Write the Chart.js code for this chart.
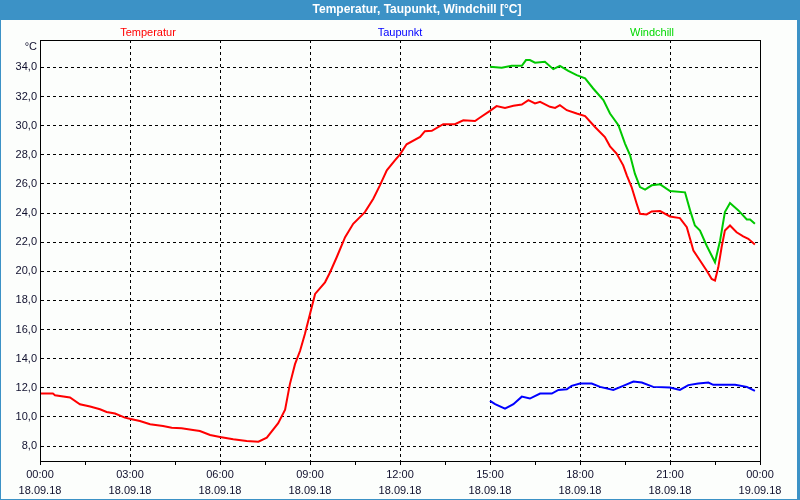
<!DOCTYPE html>
<html>
<head>
<meta charset="utf-8">
<script src="https://cdn.jsdelivr.net/npm/chart.js@4/dist/chart.umd.min.js"></script>
<style>
  body { margin: 0; background: #fff; }
  canvas { display: block; }
</style>
</head>
<body>
<canvas id="myChart" width="800" height="500"></canvas>
<script>
// Werte (Stunden ab 18.09.18 00:00)
var tempHours = [0, 0.43, 0.5, 1.0, 1.33, 1.67, 2.0, 2.22, 2.5, 2.83, 3.06, 3.33, 3.67, 4.1, 4.39, 4.72, 5.1, 5.33, 5.67, 6.0, 6.44, 6.89, 7.28, 7.56, 7.94, 8.17, 8.33, 8.5, 8.67, 8.83, 9.0, 9.17, 9.5, 9.67, 9.89, 10.17, 10.44, 10.83, 11.11, 11.33, 11.56, 11.83, 12.0, 12.22, 12.67, 12.83, 13.06, 13.44, 13.83, 14.11, 14.5, 14.67, 15.0, 15.22, 15.5, 15.78, 16.06, 16.28, 16.5, 16.67, 17.0, 17.17, 17.33, 17.56, 17.89, 18.17, 18.5, 18.83, 19.0, 19.22, 19.44, 19.56, 19.72, 19.89, 20.0, 20.22, 20.39, 20.67, 21.0, 21.33, 21.56, 21.78, 22.0, 22.22, 22.39, 22.5, 22.61, 22.72, 22.83, 23.0, 23.22, 23.44, 23.61, 23.83];
var tempValues = [11.6, 11.6, 11.49, 11.33, 10.87, 10.71, 10.52, 10.34, 10.23, 9.95, 9.84, 9.72, 9.49, 9.38, 9.26, 9.22, 9.10, 9.03, 8.76, 8.62, 8.46, 8.34, 8.30, 8.57, 9.57, 10.5, 12.25, 13.62, 14.54, 15.69, 17.07, 18.44, 19.24, 19.93, 20.96, 22.34, 23.26, 24.06, 24.98, 25.9, 26.93, 27.62, 28.03, 28.72, 29.22, 29.62, 29.64, 30.1, 30.1, 30.37, 30.32, 30.56, 31.01, 31.34, 31.22, 31.36, 31.45, 31.75, 31.52, 31.63, 31.29, 31.22, 31.40, 31.06, 30.83, 30.65, 29.91, 29.22, 28.58, 28.08, 27.27, 26.59, 25.78, 24.64, 23.95, 23.90, 24.11, 24.13, 23.76, 23.65, 23.03, 21.42, 20.74, 20.05, 19.47, 19.36, 20.27, 21.65, 22.8, 23.14, 22.68, 22.39, 22.23, 21.84];

var dewHours = [15.0, 15.17, 15.5, 15.78, 16.06, 16.33, 16.67, 17.06, 17.28, 17.56, 17.72, 18.0, 18.39, 18.67, 19.11, 19.44, 19.78, 20.06, 20.44, 21.0, 21.33, 21.61, 21.94, 22.28, 22.44, 23.17, 23.56, 23.83];
var dewValues = [11.10, 10.87, 10.57, 10.87, 11.39, 11.26, 11.6, 11.6, 11.85, 11.9, 12.13, 12.29, 12.29, 12.06, 11.85, 12.13, 12.43, 12.36, 12.06, 12.01, 11.85, 12.18, 12.29, 12.36, 12.20, 12.20, 12.06, 11.79];

var chillHours = [15.0, 15.39, 15.72, 16.06, 16.2, 16.33, 16.5, 16.83, 17.11, 17.33, 17.61, 17.89, 18.17, 18.44, 18.78, 19.0, 19.28, 19.5, 19.67, 19.83, 20.0, 20.17, 20.39, 20.67, 21.0, 21.5, 21.67, 21.83, 22.0, 22.22, 22.5, 22.67, 22.83, 23.0, 23.28, 23.56, 23.67, 23.83];
var chillValues = [34.04, 33.97, 34.11, 34.11, 34.5, 34.5, 34.32, 34.39, 33.88, 34.11, 33.76, 33.47, 33.24, 32.55, 31.75, 30.83, 30.03, 28.77, 27.96, 26.70, 25.78, 25.60, 25.90, 25.97, 25.51, 25.42, 24.18, 23.14, 22.8, 21.77, 20.62, 22.11, 24.06, 24.68, 24.18, 23.56, 23.56, 23.26];

var xTicks = [0, 1.5, 3, 4.5, 6, 7.5, 9, 10.5, 12, 13.5, 15, 16.5, 18, 19.5, 21, 22.5, 24];
var yTicks = [8, 10, 12, 14, 16, 18, 20, 22, 24, 26, 28, 30, 32, 34];
var seriesNames = ["Temperatur", "Taupunkt", "Windchill"];
var seriesColors = ["#ff0000", "#0000ff", "#00c800"];
var legendColors = ["#ff0000", "#0000ff", "#00d800"];

var blue = "#3c92c6";
var textCol = "#10102e";

function pts(h, v) {
    var out = [];
    for (var i = 0; i < h.length; i++) out.push({x: h[i], y: v[i]});
    return out;
}

// Rahmen, Titel, Legende, Einheit
var framePlugin = {
    id: 'frame',
    beforeDraw: function (chart) {
        var c = chart.ctx;
        c.save();
        c.fillStyle = "#fcfefc";
        c.fillRect(0, 0, chart.width, chart.height);
        c.fillStyle = blue;
        c.fillRect(0, 0, chart.width, 20);
        c.fillRect(0, 0, 1, chart.height);
        c.fillRect(chart.width - 3, 0, 3, chart.height);
        c.fillRect(0, chart.height - 1, chart.width, 1);
        c.fillStyle = "#ffffff";
        c.font = "bold 12px 'Liberation Sans'";
        c.textAlign = "center";
        c.textBaseline = "middle";
        c.fillText("Temperatur, Taupunkt, Windchill [°C]", 417, 10);
        c.restore();
    },
    afterDraw: function (chart) {
        var a = chart.chartArea;
        var c = chart.ctx;
        c.save();
        c.strokeStyle = "#000";
        c.lineWidth = 1;
        c.strokeRect(Math.round(a.left) + 0.5, Math.round(a.top) + 0.5, Math.round(a.right - a.left), Math.round(a.bottom - a.top));
        c.font = "11px 'Liberation Sans'";
        c.textBaseline = "middle";
        c.textAlign = "center";
        var pos = [0.15, 0.5, 0.85];
        for (var i = 0; i < seriesNames.length; i++) {
            c.fillStyle = legendColors[i];
            c.fillText(seriesNames[i], a.left + (a.right - a.left) * pos[i], 32.5);
        }
        c.fillStyle = textCol;
        c.textAlign = "right";
        c.fillText("°C", 37, 46.5);
        c.restore();
    }
};

var ctx = document.getElementById("myChart");
var myChart = new Chart(ctx, {
    type: 'line',
    data: {
        datasets: [
            { label: seriesNames[0], data: pts(tempHours, tempValues), borderColor: seriesColors[0] },
            { label: seriesNames[1], data: pts(dewHours, dewValues), borderColor: seriesColors[1] },
            { label: seriesNames[2], data: pts(chillHours, chillValues), borderColor: seriesColors[2] }
        ]
    },
    options: {
        responsive: false,
        animation: false,
        devicePixelRatio: 1,
        layout: { padding: { top: 40, right: 40, left: 0, bottom: 0 } },
        elements: {
            line: { borderWidth: 2, tension: 0, fill: false },
            point: { radius: 0 }
        },
        plugins: {
            legend: { display: false },
            title: { display: false },
            tooltip: { enabled: false }
        },
        scales: {
            x: {
                type: 'linear',
                min: 0,
                max: 24,
                afterBuildTicks: function (axis) {
                    axis.ticks = xTicks.map(function (v) { return {value: v}; });
                },
                afterFit: function (axis) { axis.height = 39; },
                ticks: {
                    autoSkip: false,
                    maxRotation: 0,
                    padding: 2,
                    color: textCol,
                    font: { family: "'Liberation Sans'", size: 11, lineHeight: 1.45 },
                    callback: function (v) {
                        if (v % 3 !== 0) return '';
                        var hh = v % 24;
                        var t = (hh < 10 ? '0' : '') + hh + ':00';
                        return [t, v < 24 ? '18.09.18' : '19.09.18'];
                    }
                },
                grid: {
                    color: function (c) {
                        return (c.tick && c.tick.value % 3 === 0) ? '#000' : 'rgba(0,0,0,0)';
                    },
                    tickColor: '#000',
                    tickLength: 4,
                    tickBorderDash: [],
                    lineWidth: 1
                },
                border: { display: true, color: '#000', width: 1, dash: [3, 3] }
            },
            y: {
                min: 6.97,
                max: 35.88,
                afterBuildTicks: function (axis) {
                    axis.ticks = yTicks.map(function (v) { return {value: v}; });
                },
                afterFit: function (axis) { axis.width = 40; },
                ticks: {
                    padding: 3,
                    color: textCol,
                    font: { family: "'Liberation Sans'", size: 11 },
                    callback: function (v) { return v.toFixed(1).replace('.', ','); }
                },
                grid: {
                    color: '#000',
                    drawTicks: false,
                    lineWidth: 1
                },
                border: { display: true, color: '#000', width: 1, dash: [3, 3] }
            }
        }
    },
    plugins: [framePlugin]
});
</script>
</body>
</html>
